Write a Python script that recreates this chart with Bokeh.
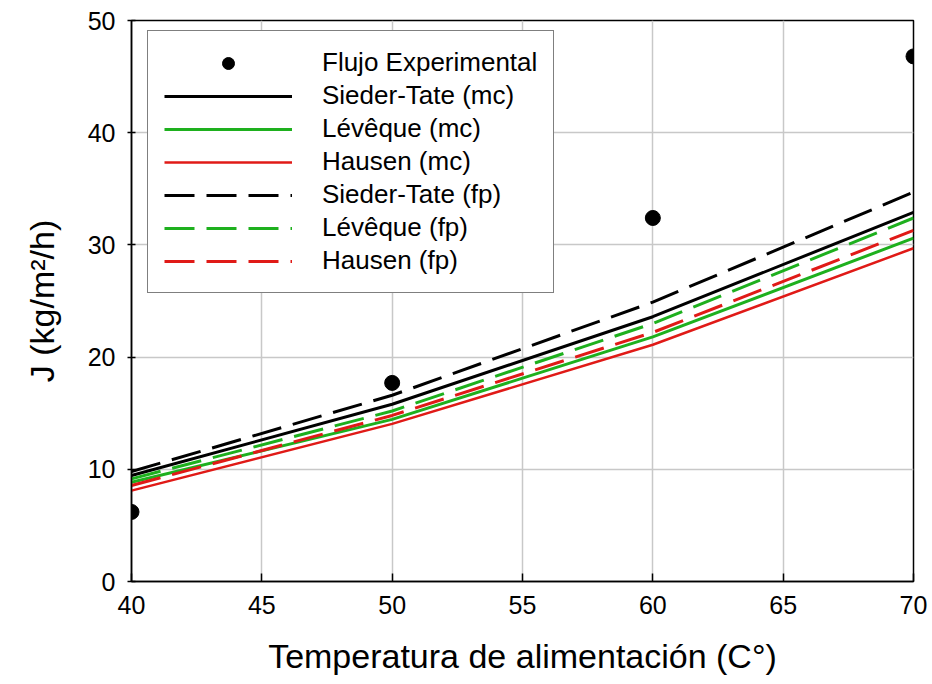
from bokeh.plotting import figure
from bokeh.models import Legend, LegendItem, Range1d, FixedTicker
from bokeh.embed import file_html
from bokeh.resources import INLINE

temps = [40, 50, 60, 70]
exp_flux = [6.2, 17.7, 32.4, 46.8]
sieder_mc = [9.45, 15.8, 23.6, 32.9]
leveque_mc = [8.85, 14.45, 21.8, 30.6]
hausen_mc = [8.1, 14.05, 21.1, 29.7]
sieder_fp = [9.8, 16.6, 24.9, 34.7]
leveque_fp = [9.15, 15.2, 23.0, 32.4]
hausen_fp = [8.55, 14.8, 22.2, 31.3]

x_ticks = [40, 45, 50, 55, 60, 65, 70]
y_ticks = [0, 10, 20, 30, 40, 50]

GREEN = "#1eb01e"
RED = "#e01a17"
FONT = "Liberation Sans"

p = figure(width=932, height=684, output_backend="svg", toolbar_location=None,
           x_range=Range1d(40, 70), y_range=Range1d(0, 50),
           min_border_left=131, min_border_right=19, min_border_top=20, min_border_bottom=103)

r_st_mc = p.line(temps, sieder_mc, line_color="black", line_width=3)
r_lv_mc = p.line(temps, leveque_mc, line_color=GREEN, line_width=3)
r_ha_mc = p.line(temps, hausen_mc, line_color=RED, line_width=2.5)
r_st_fp = p.line(temps, sieder_fp, line_color="black", line_width=3, line_dash="30 12")
r_lv_fp = p.line(temps, leveque_fp, line_color=GREEN, line_width=3, line_dash="30 12")
r_ha_fp = p.line(temps, hausen_fp, line_color=RED, line_width=3, line_dash="30 12")
r_exp = p.scatter(temps, exp_flux, size=15, color="black")

p.xaxis.ticker = FixedTicker(ticks=x_ticks)
p.yaxis.ticker = FixedTicker(ticks=y_ticks)
for ax in (p.xaxis[0], p.yaxis[0]):
    ax.minor_tick_line_color = None
    ax.axis_line_color = "black"
    ax.axis_line_width = 1.5
    ax.major_tick_line_width = 1.5
    ax.major_label_text_font = FONT
    ax.major_label_text_font_size = "25px"
    ax.major_label_text_color = "black"
    ax.axis_label_text_font = FONT
    ax.axis_label_text_font_size = "34px"
    ax.axis_label_text_font_style = "normal"
    ax.axis_label_text_color = "black"

p.xaxis.major_tick_in = 8
p.xaxis.major_tick_out = 0
p.yaxis.major_tick_in = 4
p.yaxis.major_tick_out = 4
p.xaxis.axis_label = "Temperatura de alimentación (C°)"
p.yaxis.axis_label = "J (kg/m²/h)"
p.xaxis.major_label_standoff = 14
p.yaxis.major_label_standoff = 12
p.xaxis.axis_label_standoff = 20
p.yaxis.axis_label_standoff = 24

p.grid.grid_line_color = "#c8c8c8"
p.grid.grid_line_width = 1.5
p.outline_line_color = "black"
p.outline_line_width = 1.5
p.outline_line_alpha = 1

legend = Legend(items=[
    LegendItem(label="Flujo Experimental", renderers=[r_exp]),
    LegendItem(label="Sieder-Tate (mc)", renderers=[r_st_mc]),
    LegendItem(label="Lévêque (mc)", renderers=[r_lv_mc]),
    LegendItem(label="Hausen (mc)", renderers=[r_ha_mc]),
    LegendItem(label="Sieder-Tate (fp)", renderers=[r_st_fp]),
    LegendItem(label="Lévêque (fp)", renderers=[r_lv_fp]),
    LegendItem(label="Hausen (fp)", renderers=[r_ha_fp]),
], location=(16, 288))
legend.glyph_width = 128
legend.glyph_height = 30
legend.label_height = 30
legend.spacing = 2
legend.padding = 16
legend.margin = 0
legend.label_standoff = 30
legend.label_text_font = FONT
legend.label_text_font_size = "26px"
legend.label_text_color = "black"
legend.border_line_color = "black"
legend.border_line_width = 1.5
legend.background_fill_alpha = 1
p.add_layout(legend)

open("out.html", "w").write(file_html(p, INLINE))
